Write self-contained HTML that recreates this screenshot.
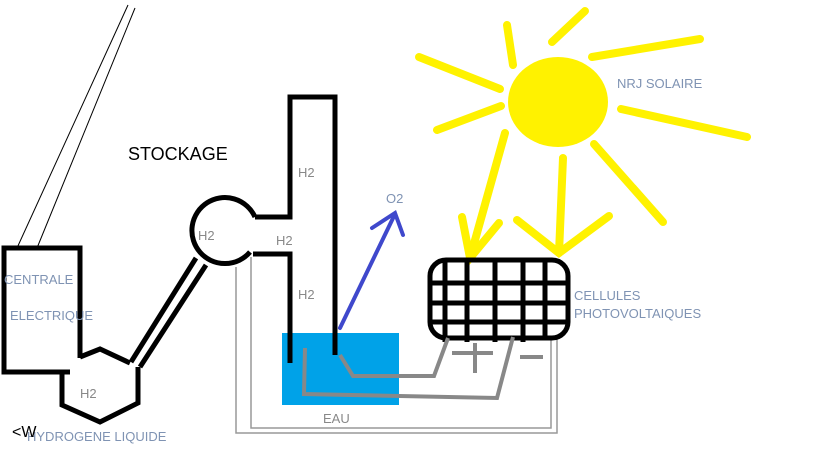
<!DOCTYPE html>
<html><head><meta charset="utf-8"><style>
html,body{margin:0;padding:0;background:#fff;width:819px;height:460px;overflow:hidden}
svg{display:block}
text{font-family:"Liberation Sans",sans-serif;font-size:13px;fill:#7f93b3}
.g{fill:#888}
</style></head><body>
<svg width="819" height="460" viewBox="0 0 819 460" xmlns="http://www.w3.org/2000/svg">
<g stroke="#fff200" stroke-width="8" stroke-linecap="round" fill="none">
<line x1="419" y1="57" x2="500" y2="89"/>
<line x1="437" y1="130" x2="501" y2="106"/>
<line x1="507" y1="25" x2="513" y2="65"/>
<line x1="552" y1="42" x2="585" y2="11"/>
<line x1="592" y1="57" x2="700" y2="39"/>
<line x1="621" y1="109" x2="747" y2="137"/>
<line x1="594" y1="144" x2="663" y2="222"/>
<line x1="505" y1="133" x2="470" y2="258"/>
<polyline points="462,217 470,258 499,223"/>
<line x1="563" y1="158" x2="559" y2="253"/>
<polyline points="517,220 559,253 609,216"/>
</g>
<ellipse cx="558" cy="102" rx="50" ry="45" fill="#fff200"/>
<line x1="17" y1="248" x2="128" y2="5" stroke="#000" stroke-width="1"/>
<line x1="37" y1="248" x2="135" y2="8" stroke="#000" stroke-width="1"/>
<polyline points="251,257 251,428 551,428 551,338" fill="none" stroke="#999" stroke-width="1.5"/>
<polyline points="236,267 236,433 557,433 557,338" fill="none" stroke="#999" stroke-width="1.5"/>
<rect x="282" y="333" width="117" height="72" fill="#00a2e8"/>
<g stroke="#000" stroke-width="5" fill="none" stroke-linejoin="miter">
<polyline points="70,372 4,372 4,248 80,248 80,358"/>
<polyline points="80,357 100,349 130,363"/>
<polyline points="62,373 62,405 100,422 138,403 138,367"/>
<line x1="196" y1="258" x2="131" y2="362"/>
<line x1="206" y1="265" x2="140" y2="367"/>
<path d="M255 217 A33 33 0 1 0 250 252"/>
<polyline points="255,217 290,217 290,97 335,97 335,355"/>
<polyline points="253,254 290,254 290,363"/>
</g>
<g stroke="#000" stroke-width="5" fill="none">
<rect x="430" y="260" width="138" height="78" rx="16"/>
<line x1="445" y1="260" x2="445" y2="342"/>
<line x1="467" y1="260" x2="467" y2="342"/>
<line x1="495" y1="258" x2="495" y2="342"/>
<line x1="523" y1="260" x2="523" y2="342"/>
<line x1="545" y1="260" x2="545" y2="340"/>
<line x1="430" y1="283" x2="568" y2="283"/>
<line x1="430" y1="303" x2="568" y2="303"/>
<line x1="430" y1="322" x2="568" y2="322"/>
</g>
<g stroke="#888" stroke-width="4" fill="none">
<polyline points="340,355 353,376 434,376 448,338"/>
<polyline points="305,348 304,394 497,398 513,337"/>
<line x1="452" y1="353" x2="493" y2="353"/>
<line x1="475" y1="343" x2="475" y2="373"/>
<line x1="520" y1="357" x2="543" y2="357"/>
</g>
<g stroke="#3f48cc" stroke-width="4" fill="none" stroke-linecap="round">
<line x1="340" y1="328" x2="395" y2="214"/>
<polyline points="372,228 395,213 403,235"/>
</g>
<text x="128" y="160" style="font-size:18px;fill:#000">STOCKAGE</text>
<text x="617" y="88">NRJ SOLAIRE</text>
<text x="574" y="300">CELLULES</text>
<text x="574" y="318">PHOTOVOLTAIQUES</text>
<text x="4" y="284">CENTRALE</text>
<text x="10" y="320">ELECTRIQUE</text>
<text class="g" x="80" y="398">H2</text>
<text class="g" x="198" y="240">H2</text>
<text class="g" x="276" y="245">H2</text>
<text class="g" x="298" y="177">H2</text>
<text class="g" x="298" y="299">H2</text>
<text x="386" y="203">O2</text>
<text class="g" x="323" y="423">EAU</text>
<text x="27" y="441">HYDROGENE LIQUIDE</text>
<text x="12" y="437" style="font-size:16px;fill:#000">&lt;W</text>
</svg>
</body></html>
